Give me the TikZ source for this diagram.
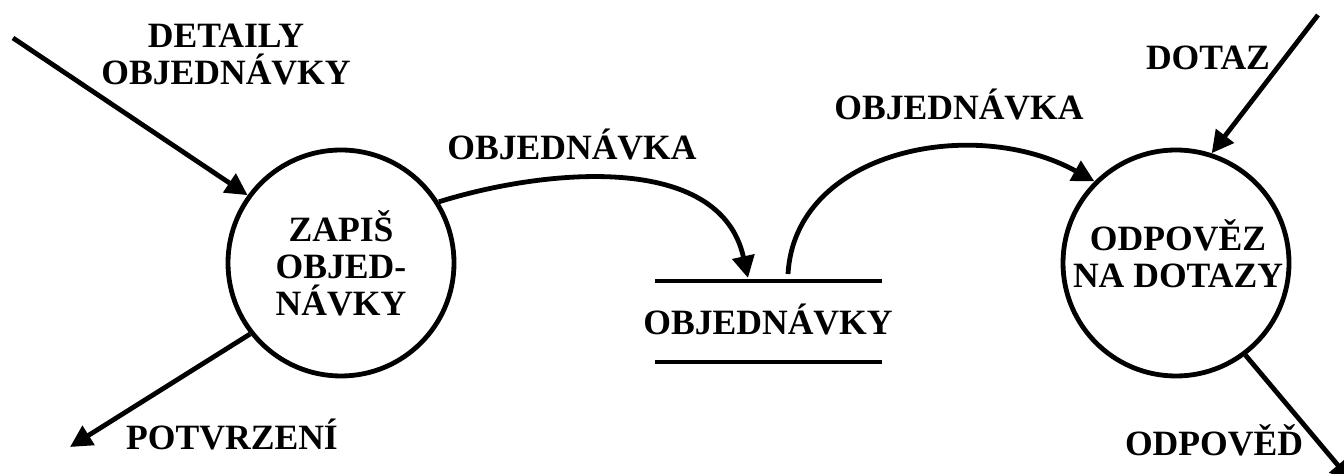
\documentclass[tikz,border=0pt]{standalone}
\usepackage{fontspec}
\setmainfont{Liberation Serif}
\usetikzlibrary{arrows.meta}

\begin{document}
\begin{tikzpicture}[x=0.5pt,y=-0.5pt,
        >={Triangle[length=11pt,width=11pt]},
        every node/.style={font=\fontsize{17.8}{18.5}\selectfont\bfseries, align=center},
        process/.style={draw, circle, line width=2.4pt, minimum size=113pt, inner sep=0pt},
        flow/.style={line width=2.4pt, ->},
        store/.style={line width=2.4pt}]
        \path[use as bounding box] (0,0) rectangle (1344,474);

        % processes
        \node[process] (zapis) at (341,263) {ZAPIŠ\\OBJED-\\NÁVKY};
        \node[process] (odpoved) at (1176,263) {};
        \node (odpovedtext) at (1178,254) {ODPOVĚZ\\NA DOTAZY};

        % data store
        \coordinate (storeTL) at (655,281);
        \coordinate (storeTR) at (882,281);
        \coordinate (storeBL) at (655,362);
        \coordinate (storeBR) at (882,362);
        \draw[store] (storeTL) -- (storeTR);
        \draw[store] (storeBL) -- (storeBR);
        \node (storetext) at (768,320) {OBJEDNÁVKY};
        \coordinate (storein) at (748,278);
        \coordinate (storeout) at (788,274);

        % free ends
        \coordinate (detailsin) at (13,38);
        \coordinate (potvrzout) at (70,447);
        \coordinate (dotazin) at (1318,15);
        \coordinate (odpovedout) at (1352,482);

        \draw[flow] (detailsin) -- (zapis.144);
        \draw[flow] (zapis.218) -- (potvrzout);
        \draw[flow] (zapis.32) .. controls (540,170) and (720,150) .. (storein);
        \draw[flow] (storeout) .. controls (795,150) and (975,115) .. (odpoved.135);
        \draw[flow] (dotazin) -- (odpoved.72);
        \draw[flow] (odpoved.307) -- (odpovedout);

        % flow labels
        \node (detailslabel) at (226,55) {DETAILY\\OBJEDNÁVKY};
        \node (potvrzlabel) at (232,435) {POTVRZENÍ};
        \node (objlabelA) at (572,145) {OBJEDNÁVKA};
        \node (objlabelB) at (959,105) {OBJEDNÁVKA};
        \node (dotazlabel) at (1208,58) {DOTAZ};
        \node (odpovedlabel) at (1214,440) {ODPOVĚĎ};
    \end{tikzpicture}
\end{document}
